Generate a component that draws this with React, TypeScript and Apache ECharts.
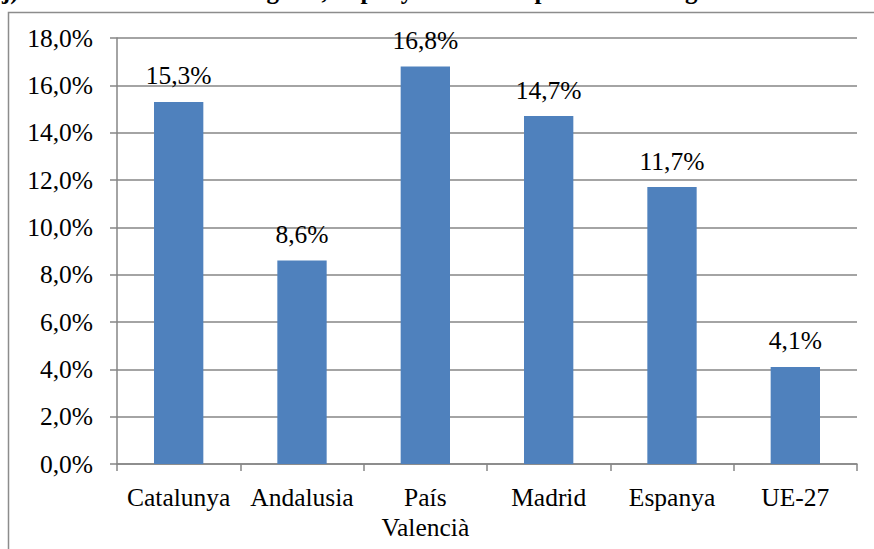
import React, { useEffect, useRef } from "react";
import * as echarts from "echarts";

const categories = ["Catalunya", "Andalusia", "País\nValencià", "Madrid", "Espanya", "UE-27"];
const values = [15.3, 8.6, 16.8, 14.7, 11.7, 4.1];
const titleText = "j) Pes de les dones estrangeres, Espanya i UE europea: dades de generació";

const fmt = (v: number) => v.toFixed(1).replace(".", ",") + "%";
const FONT = "Liberation Serif";
const FS = 25.5;

export default function App() {
  const ref = useRef<HTMLDivElement>(null);
  useEffect(() => {
    const chart = echarts.init(ref.current!, null, { renderer: "svg" });
    chart.setOption({
      animation: false,
      backgroundColor: "#ffffff",
      textStyle: { fontFamily: FONT },
      graphic: [
        {
          type: "rect",
          shape: { x: 8.5, y: 12.5, width: 900, height: 600 },
          style: { fill: "none", stroke: "#8c8c8c", lineWidth: 1.5 },
          silent: true,
        },
        {
          type: "text",
          x: 2,
          y: 3,
          style: {
            text: titleText,
            fontFamily: FONT,
            fontWeight: "bold",
            fontSize: 25,
            fill: "#000",
            textVerticalAlign: "bottom",
          },
        },
      ],
      grid: { left: 117, right: 17, top: 38, bottom: 85 },
      xAxis: {
        type: "category",
        data: categories,
        axisLine: { show: true, lineStyle: { color: "#868686", width: 1.5 } },
        axisTick: { show: true, alignWithLabel: false, length: 7, lineStyle: { color: "#868686", width: 1.5 } },
        axisLabel: {
          color: "#000",
          fontFamily: FONT,
          fontSize: FS,
          lineHeight: 30,
          margin: 18,
          interval: 0,
        },
      },
      yAxis: {
        type: "value",
        min: 0,
        max: 18,
        interval: 2,
        axisLine: { show: true, lineStyle: { color: "#868686", width: 1.5 } },
        axisTick: { show: true, inside: false, length: 7, lineStyle: { color: "#868686", width: 1.5 } },
        axisLabel: {
          color: "#000",
          fontFamily: FONT,
          fontSize: FS,
          margin: 24,
          formatter: (v: number) => fmt(v),
        },
        splitLine: { show: true, lineStyle: { color: "#868686", width: 1.5 } },
      },
      series: [
        {
          type: "bar",
          data: values,
          barWidth: "40%",
          itemStyle: { color: "#4F81BD" },
          label: {
            show: true,
            position: "top",
            distance: 13,
            color: "#000",
            fontFamily: FONT,
            fontSize: FS,
            formatter: (p: any) => fmt(p.value),
          },
        },
      ],
    });
    return () => chart.dispose();
  }, []);
  return (
    <div
      ref={ref}
      style={{ position: "fixed", left: 0, top: 0, width: 874, height: 549 }}
    />
  );
}
